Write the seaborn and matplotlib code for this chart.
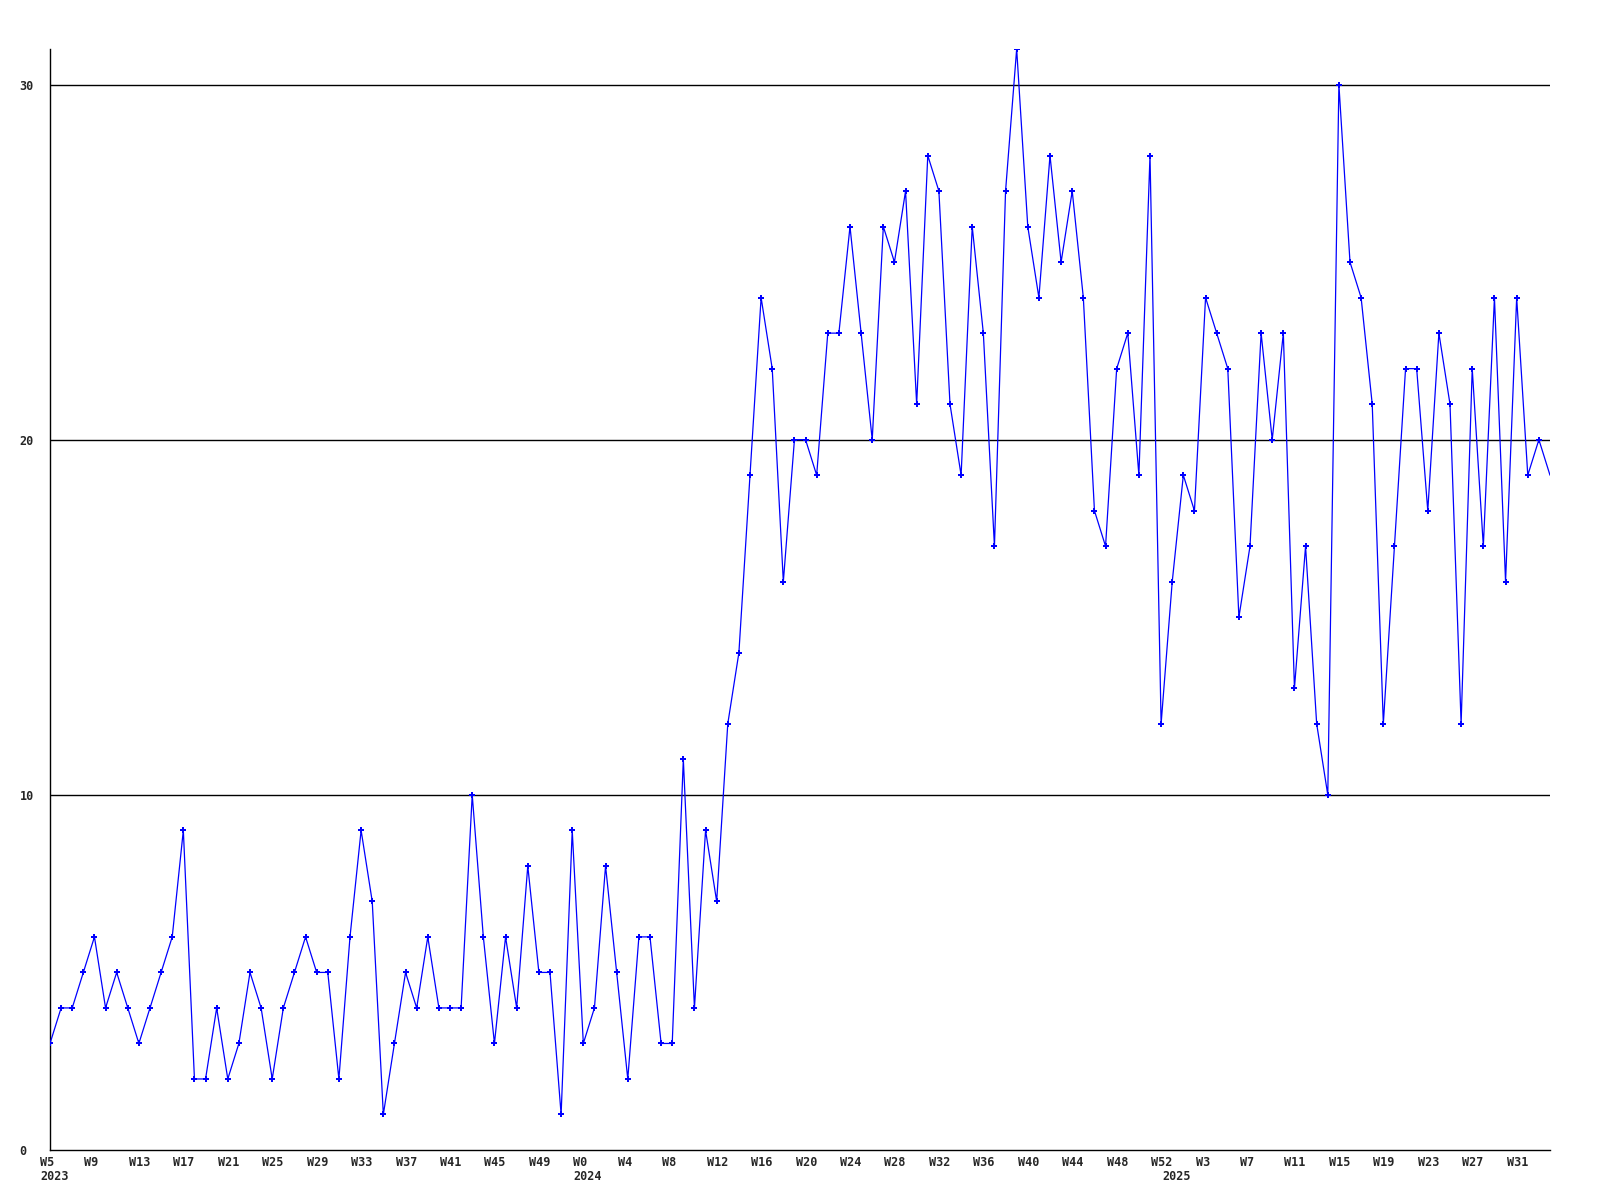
import numpy as np
import pandas as pd
import matplotlib
matplotlib.use('Agg')
import matplotlib.pyplot as plt
import matplotlib.transforms as mtransforms
import seaborn as sns

# Weekly counts
weeks_2023 = list(range(5, 53))
values_2023 = [3, 4, 4, 5, 6, 4, 5, 4, 3, 4, 5, 6, 9, 2, 2, 4, 2, 3, 5, 4, 2, 4, 5, 6,
               5, 5, 2, 6, 9, 7, 1, 3, 5, 4, 6, 4, 4, 4, 10, 6, 3, 6, 4, 8, 5, 5, 1, 9]
weeks_2024 = list(range(0, 53))
values_2024 = [3, 4, 8, 5, 2, 6, 6, 3, 3, 11, 4, 9, 7, 12, 14, 19, 24, 22, 16, 20, 20, 19,
               23, 23, 26, 23, 20, 26, 25, 27, 21, 28, 27, 21, 19, 26, 23, 17, 27, 31, 26,
               24, 28, 25, 27, 24, 18, 17, 22, 23, 19, 28, 12]
weeks_2025 = list(range(0, 35))
values_2025 = [16, 19, 18, 24, 23, 22, 15, 17, 23, 20, 23, 13, 17, 12, 10, 30, 25, 24, 21,
               12, 17, 22, 22, 18, 23, 21, 12, 22, 17, 24, 16, 24, 19, 20, 19]
y_ticks = [0, 10, 20, 30]

# Build one table
rows = []
for year, weeks, vals in [(2023, weeks_2023, values_2023),
                          (2024, weeks_2024, values_2024),
                          (2025, weeks_2025, values_2025)]:
    for w, v in zip(weeks, vals):
        rows.append((year, w, v))
df = pd.DataFrame(rows, columns=['year', 'week', 'count'])
df['pos'] = np.arange(len(df))
n = len(df)

sns.set_style('white')
plt.rcParams['font.family'] = ['DejaVu Sans Mono']

fig = plt.figure(figsize=(16, 12), dpi=100)
ax = fig.add_axes([50 / 1600, 1 - 1150 / 1200, 1500 / 1600, 1101 / 1200])

# Horizontal grid lines
for t in y_ticks[1:]:
    ax.axhline(t, color='black', lw=1.0, zorder=1)

sns.lineplot(data=df, x='pos', y='count', ax=ax, color='#0000ff', lw=0.9,
             marker='P', markersize=5, markeredgewidth=0, markevery=slice(0, n - 1),
             zorder=3)

ax.set_xlim(0, n - 1)
ax.set_ylim(0, 31)
ax.set_xlabel('')
ax.set_ylabel('')

for side in ['top', 'right']:
    ax.spines[side].set_visible(False)
for side in ['left', 'bottom']:
    ax.spines[side].set_color('black')
    ax.spines[side].set_linewidth(1.0)

# y tick labels, left aligned at the figure edge
ax.set_yticks(y_ticks)
ax.set_yticklabels([str(t) for t in y_ticks], fontsize=8.5, fontweight='bold')
ax.tick_params(axis='y', length=0, pad=22)
for lab in ax.get_yticklabels():
    lab.set_horizontalalignment('left')

# x tick labels every 4 weeks, with the year under the first week of each year
ax.set_xticks([])
shift = mtransforms.ScaledTranslation(-10 / 100, 0, fig.dpi_scale_trans)
trans = mtransforms.blended_transform_factory(ax.transData, fig.transFigure) + shift
for pos in range(0, n, 4):
    ax.text(pos, 1 - 1162 / 1200, 'W%d' % df['week'][pos], transform=trans,
            ha='left', va='center', fontsize=8.5, fontweight='bold', clip_on=False)
for year in [2023, 2024, 2025]:
    pos = df.index[df['year'] == year][0]
    ax.text(pos, 1 - 1177 / 1200, str(year), transform=trans,
            ha='left', va='center', fontsize=8.5, fontweight='bold', clip_on=False)

fig.savefig('out.png', dpi=100)
